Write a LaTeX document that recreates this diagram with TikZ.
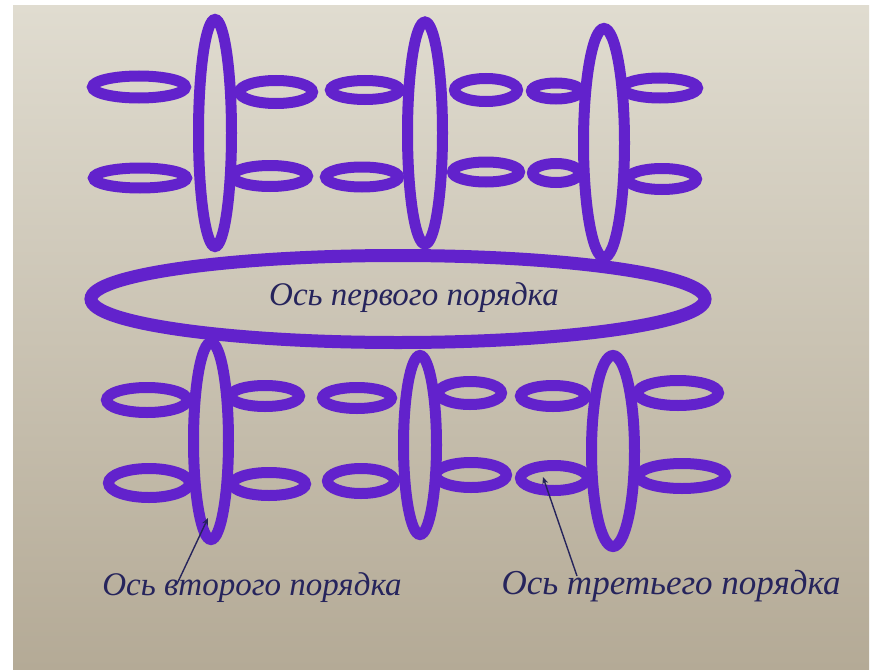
\documentclass[tikz,border=0pt]{standalone}
\usepackage{fontspec}
\setmainfont{Liberation Serif}
\usetikzlibrary{shapes.geometric,arrows.meta}
\definecolor{paperTop}{RGB}{224,220,208}
\definecolor{paperMid}{RGB}{216,211,196}
\definecolor{paperBot}{RGB}{180,170,150}
\definecolor{marker}{RGB}{98,34,204}
\definecolor{ink}{RGB}{38,36,92}
\newcommand\ringat[5]{\node[ring, minimum width=#4pt-11pt, minimum height=#5pt-11pt] (#1) at (#2,#3) {};}
\begin{document}
\begin{tikzpicture}[x=1pt,y=-1pt,
  ring/.style={ellipse, draw=marker, line width=11pt, inner sep=0pt, outer sep=0pt},
  bigring/.style={ellipse, draw=marker, line width=13pt, inner sep=0pt, outer sep=0pt},
  hand/.style={text=ink, font=\fontsize{33}{38}\selectfont\itshape, inner sep=0pt},
  pointer/.style={draw=ink, line width=1.4pt, -{Stealth[length=7pt,width=6pt]}}]
\useasboundingbox (0,0) rectangle (875,669);
\fill[white] (0,0) rectangle (875,669);
\shade[top color=paperTop, middle color=paperMid, bottom color=paperBot] (13,6) rectangle (869,669);
% top vertical rings
\ringat{v1}{215}{133}{44}{238}
\ringat{v2}{425}{133}{46}{233}
\ringat{v3}{604}{143}{52}{240}
% top small rings row 1
\ringat{a1}{139}{87}{104}{33}
\ringat{a2}{276}{92}{84}{34}
\ringat{a3}{365}{90}{80}{30}
\ringat{a4}{486}{90}{74}{34}
\ringat{a5}{556}{91}{60}{27}
\ringat{a6}{660}{88}{86}{31}
% top small rings row 2
\ringat{b1}{140}{178}{104}{31}
\ringat{b2}{270}{176}{86}{32}
\ringat{b3}{362}{177}{84}{31}
\ringat{b4}{486}{172}{78}{31}
\ringat{b5}{556}{173}{58}{30}
\ringat{b6}{662}{179}{80}{32}
% first order axis
\node[bigring, minimum width=614pt, minimum height=87pt] (big) at (398,299) {};
\node[hand] (lab1) at (414,298) {Ось первого порядка};
% bottom vertical rings
\ringat{w1}{211}{441}{46}{208}
\ringat{w2}{420}{445}{44}{190}
\ringat{w3}{613}{451}{54}{202}
% bottom small rings row 1
\ringat{c1}{147}{400}{92}{36}
\ringat{c2}{265}{396}{80}{32}
\ringat{c3}{357}{398}{80}{32}
\ringat{c4}{470}{393}{74}{34}
\ringat{c5}{553}{396}{76}{32}
\ringat{c6}{678}{393}{92}{36}
% bottom small rings row 2
\ringat{d1}{149}{483}{92}{40}
\ringat{d2}{269}{484}{84}{34}
\ringat{d3}{361}{481}{78}{36}
\ringat{d4}{471}{475}{82}{36}
\ringat{d5}{554}{478}{78}{36}
\ringat{d6}{682}{476}{98}{36}
% labels
\node[hand] (lab2) at (252,588) {Ось второго порядка};
\node[hand, font=\fontsize{35}{40}\selectfont\itshape] (lab3) at (671,586) {Ось третьего порядка};
\coordinate (s2) at (177,584);
\coordinate (t2) at (208,518);
\coordinate (s3) at (577,576);
\coordinate (t3) at (543,477);
\draw[pointer] (s2) -- (t2);
\draw[pointer] (s3) -- (t3);
\end{tikzpicture}
\end{document}
